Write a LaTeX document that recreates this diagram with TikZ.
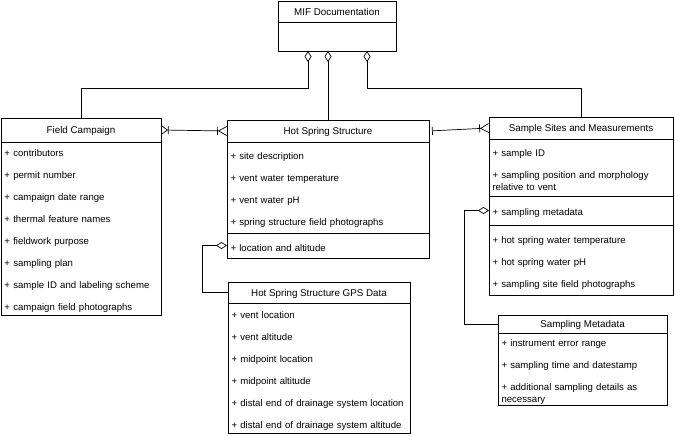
\documentclass[tikz,border=0pt]{standalone}
\usepackage{fontspec}
\setmainfont{Liberation Sans}
\usetikzlibrary{arrows.meta,positioning,calc}
\newcommand{\itemfont}{\fontsize{9.6}{22}\selectfont}

\begin{document}
\begin{tikzpicture}[
      x=1pt, y=-1pt, line width=0.7pt,
      every node/.style={draw, inner sep=0pt, outer sep=0pt, anchor=north west},
      classhead/.style={font=\fontsize{9.8}{11}\selectfont, align=center, text depth=0pt},
      classpart/.style={font=\itemfont, align=left, inner xsep=3.5pt, execute at begin node={\rule{0pt}{12pt}}},
      agg/.style={{Diamond[open,length=11pt,width=7pt]}-},
      manymany/.style={{Straight Barb[reversed,length=6pt,width=9pt] Bar[width=8pt]}-{Bar[width=8pt] Straight Barb[reversed,length=8pt,width=9pt]}},
      onemany/.style={{Bar[width=8pt,sep=3pt]}-{Bar[width=8pt] Straight Barb[reversed,length=8pt,width=9pt]}}
    ]
    \useasboundingbox (0,0) rectangle (675,436);

    \node[classhead, minimum width=118pt, minimum height=21pt] (mift) at (278,1) {MIF Documentation};
    \node[classpart, text width=111pt, minimum height=29pt] (mifb) at (mift.south west) {};

    \node[classhead, minimum width=160pt, minimum height=24pt] (fct) at (1,118) {Field Campaign};
    \node[classpart, text width=153pt, minimum height=173pt] (fcb) at (fct.south west) {+ contributors\\+ permit number\\+ campaign date range\\+ thermal feature names\\+ fieldwork purpose\\+ sampling plan\\+ sample ID and labeling scheme\\+ campaign field photographs};

    \node[classhead, minimum width=202pt, minimum height=22pt] (hsst) at (227,120) {Hot Spring Structure};
    \node[classpart, text width=195pt, minimum height=91pt] (hssb1) at (hsst.south west) {+ site description\\+ vent water temperature\\+ vent water pH\\+ spring structure field photographs};
    \node[classpart, text width=195pt, minimum height=25pt] (hssb2) at (hssb1.south west) {+ location and altitude};

    \node[classhead, minimum width=182pt, minimum height=21pt] (gpst) at (228,282) {Hot Spring Structure GPS Data};
    \node[classpart, text width=175pt, minimum height=130pt] (gpsb) at (gpst.south west) {+ vent location\\+ vent altitude\\+ midpoint location\\+ midpoint altitude\\+ distal end of drainage system location\\+ distal end of drainage system altitude};

    \node[classhead, minimum width=184pt, minimum height=22pt] (ssmt) at (489,117) {Sample Sites and Measurements};
    \node[classpart, text width=177pt, minimum height=57pt] (ssmb1) at (ssmt.south west) {+ sample ID\\+ sampling position and morphology\\[-10pt]relative to vent};
    \node[classpart, text width=177pt, minimum height=29pt] (ssmb2) at (ssmb1.south west) {+ sampling metadata};
    \node[classpart, text width=177pt, minimum height=70pt] (ssmb3) at (ssmb2.south west) {+ hot spring water temperature\\+ hot spring water pH\\+ sampling site field photographs};

    \node[classhead, minimum width=169pt, minimum height=18pt] (smt) at (498,315) {Sampling Metadata};
    \node[classpart, text width=162pt, minimum height=72pt] (smb) at (smt.south west) {+ instrument error range\\+ sampling time and datestamp\\+ additional sampling details as\\[-10pt]necessary};

    \coordinate (fcbend) at ($(fct.north)+(0,-30)$);
    \coordinate (ssmbend) at ($(ssmt.north)+(0,-29)$);
    \coordinate (gpsbend) at ($(hssb2.west)+(-25,0)$);
    \coordinate (smbend) at ($(ssmb2.west)+(-25,0)$);

    \draw[agg] ([xshift=30pt]mifb.south west) |- (fcbend) -- (fct.north);
    \draw[agg] (mifb.south west -| hsst.north) -- (hsst.north);
    \draw[agg] ([xshift=89pt]mifb.south west) |- (ssmbend) -- (ssmt.north);
    \draw[agg] (hssb2.west) -- (gpsbend) |- (gpst.west);
    \draw[agg] (ssmb2.west) -- (smbend) |- (smt.west);
    \draw[manymany] (fct.east) -- (hsst.west);
    \draw[onemany] (hsst.east) -- (ssmt.west);
  \end{tikzpicture}
\end{document}
